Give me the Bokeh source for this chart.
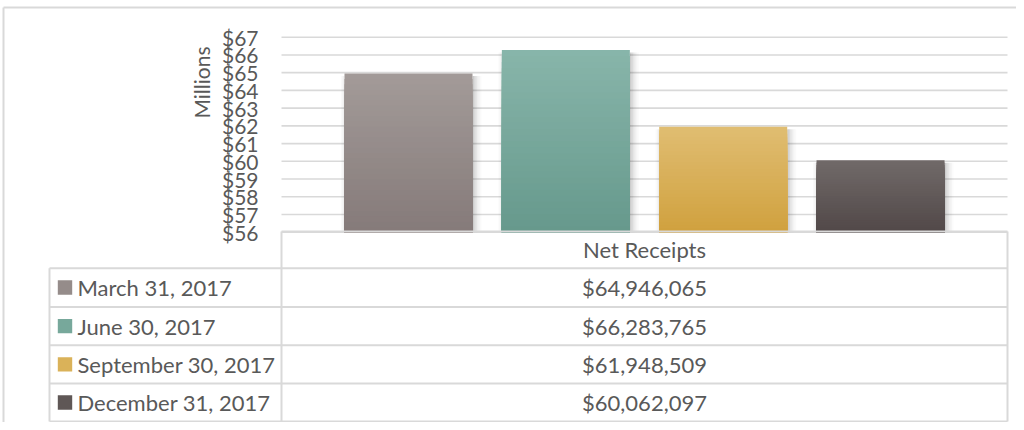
from bokeh.plotting import figure
from bokeh.models import Range1d
from bokeh.core.properties import value
from bokeh.embed import file_html
from bokeh.resources import INLINE

# ---------------- data ----------------
series = ["March 31, 2017", "June 30, 2017", "September 30, 2017", "December 31, 2017"]
net_receipts = [64946065, 66283765, 61948509, 60062097]
category = "Net Receipts"
y_ticks = [56, 57, 58, 59, 60, 61, 62, 63, 64, 65, 66, 67]
y_tick_labels = ["$56", "$57", "$58", "$59", "$60", "$61", "$62", "$63", "$64", "$65", "$66", "$67"]
y_title = "Millions"

# ---------------- style ----------------
top_colors = ["#a39b99", "#88b5aa", "#e0bd72", "#716a69"]
bottom_colors = ["#857a79", "#66998c", "#d0a13e", "#514848"]
legend_colors = ["#958c8a", "#77a89b", "#dab259", "#5f5756"]
TEXT = "#595959"
LINE = "#d9d9d9"
FONT = value("Lato")

# layout (pixels of the picture)
FIG_W, FIG_H = 1016, 422
PLOT_L, PLOT_R = 281, 1007
TOP_TICK_PX = 36.7
PX_PER_M = 17.73
FIRST_CENTER, SLOT_PX, BAR_W_PX = 408, 157.35, 128
TABLE_TOP = 231
TABLE_L = 49
ROW_LINES = [267.7, 306.4, 344.8, 383.0, 421.0]


def m_at(px):
    return y_ticks[-1] - (px - TOP_TICK_PX) / PX_PER_M


def slot_at(px):
    return (px - FIRST_CENTER) / SLOT_PX


p = figure(width=FIG_W, height=FIG_H, output_backend="svg", toolbar_location=None,
           x_range=Range1d(slot_at(0), slot_at(FIG_W)),
           y_range=Range1d(m_at(FIG_H), m_at(0)),
           x_axis_type=None, y_axis_type=None, min_border=0,
           outline_line_color=None, background_fill_color="white")
p.grid.visible = False
p.extra_x_ranges = {"px": Range1d(0, FIG_W)}
p.extra_y_ranges = {"px": Range1d(FIG_H, 0)}

# chart area border (top and left)
p.segment(x0=[3, 3], x1=[FIG_W, 3], y0=[7, 7], y1=[7, FIG_H],
          x_range_name="px", y_range_name="px", line_color=LINE, line_width=2)

# gridlines
n = len(y_ticks)
p.segment(x0=[slot_at(PLOT_L)] * n, x1=[slot_at(PLOT_R)] * n, y0=y_ticks, y1=y_ticks,
          line_color=LINE, line_width=1.6)

# bars (gradient + soft shadow)
base = y_ticks[0]
half = BAR_W_PX / SLOT_PX / 2
unit_px = 1 / SLOT_PX
N = 30


def hx(c):
    return [int(c[i:i + 2], 16) for i in (1, 3, 5)]


sh_l, sh_r, sh_t, sh_b, sh_a = [], [], [], [], []
for i, v in enumerate(net_receipts):
    top = v / 1e6
    right = i + half
    left = i - half
    for k, a in enumerate([0.20, 0.15, 0.10, 0.065, 0.04, 0.02]):
        sh_l.append(right + k * 1.5 * unit_px)
        sh_r.append(right + (k + 1) * 1.5 * unit_px)
        sh_t.append(top - 2.5 / PX_PER_M)
        sh_b.append(base)
        sh_a.append(a)
    for k, a in enumerate([0.07, 0.04, 0.02]):
        sh_l.append(left - (k + 1) * 1.2 * unit_px)
        sh_r.append(left - k * 1.2 * unit_px)
        sh_t.append(top - 2.5 / PX_PER_M)
        sh_b.append(base)
        sh_a.append(a)
p.quad(left=sh_l, right=sh_r, top=sh_t, bottom=sh_b, fill_color="black",
       fill_alpha=sh_a, line_color=None)

gl, gr, gt, gb, gc = [], [], [], [], []
for i, v in enumerate(net_receipts):
    top = v / 1e6
    c0, c1 = hx(top_colors[i]), hx(bottom_colors[i])
    for j in range(N):
        f = (j + 0.5) / N
        col = "#%02x%02x%02x" % tuple(round(c0[k] + (c1[k] - c0[k]) * f) for k in range(3))
        gl.append(i - half)
        gr.append(i + half)
        gt.append(top - (top - base) * j / N)
        gb.append(base)
        gc.append(col)
p.quad(left=gl, right=gr, top=gt, bottom=gb, fill_color=gc, line_color=None)

# y tick labels and title
p.text(x=[258] * n, y=y_ticks, text=y_tick_labels, x_range_name="px",
       text_font=FONT, text_font_size="21px", text_color=TEXT,
       text_align="right", text_baseline="middle")
p.text(x=[201], y=[82], text=[y_title], angle=1.5707963, x_range_name="px", y_range_name="px",
       text_font=FONT, text_font_size="21px", text_color=TEXT,
       text_align="center", text_baseline="middle")

# data table
hx0 = [PLOT_L] + [TABLE_L] * len(ROW_LINES)
hx1 = [PLOT_R] * (len(ROW_LINES) + 1)
hy = [TABLE_TOP] + ROW_LINES
p.segment(x0=hx0, x1=hx1, y0=hy, y1=hy, x_range_name="px", y_range_name="px",
          line_color=LINE, line_width=2)
p.segment(x0=[TABLE_L, PLOT_L, PLOT_R], x1=[TABLE_L, PLOT_L, PLOT_R],
          y0=[ROW_LINES[0], TABLE_TOP, TABLE_TOP], y1=[ROW_LINES[-1]] * 3,
          x_range_name="px", y_range_name="px", line_color=LINE, line_width=2)

mid_x = (PLOT_L + PLOT_R) / 2
p.text(x=[mid_x], y=[(TABLE_TOP + ROW_LINES[0]) / 2], text=[category],
       x_range_name="px", y_range_name="px", text_font=FONT, text_font_size="22px",
       text_color=TEXT, text_align="center", text_baseline="middle")

row_c = [(ROW_LINES[k] + ROW_LINES[k + 1]) / 2 for k in range(len(series))]
p.text(x=[mid_x] * len(series), y=row_c, text=["${:,}".format(v) for v in net_receipts],
       x_range_name="px", y_range_name="px", text_font=FONT, text_font_size="22px",
       text_color=TEXT, text_align="center", text_baseline="middle")
p.text(x=[77] * len(series), y=row_c, text=series,
       x_range_name="px", y_range_name="px", text_font=FONT, text_font_size="22px",
       text_color=TEXT, text_align="left", text_baseline="middle")
p.quad(left=[57.3] * len(series), right=[71.7] * len(series),
       top=[c - 7.2 for c in row_c], bottom=[c + 7.2 for c in row_c],
       x_range_name="px", y_range_name="px", fill_color=legend_colors, line_color=None)

open("out.html", "w").write(file_html(p, INLINE))
